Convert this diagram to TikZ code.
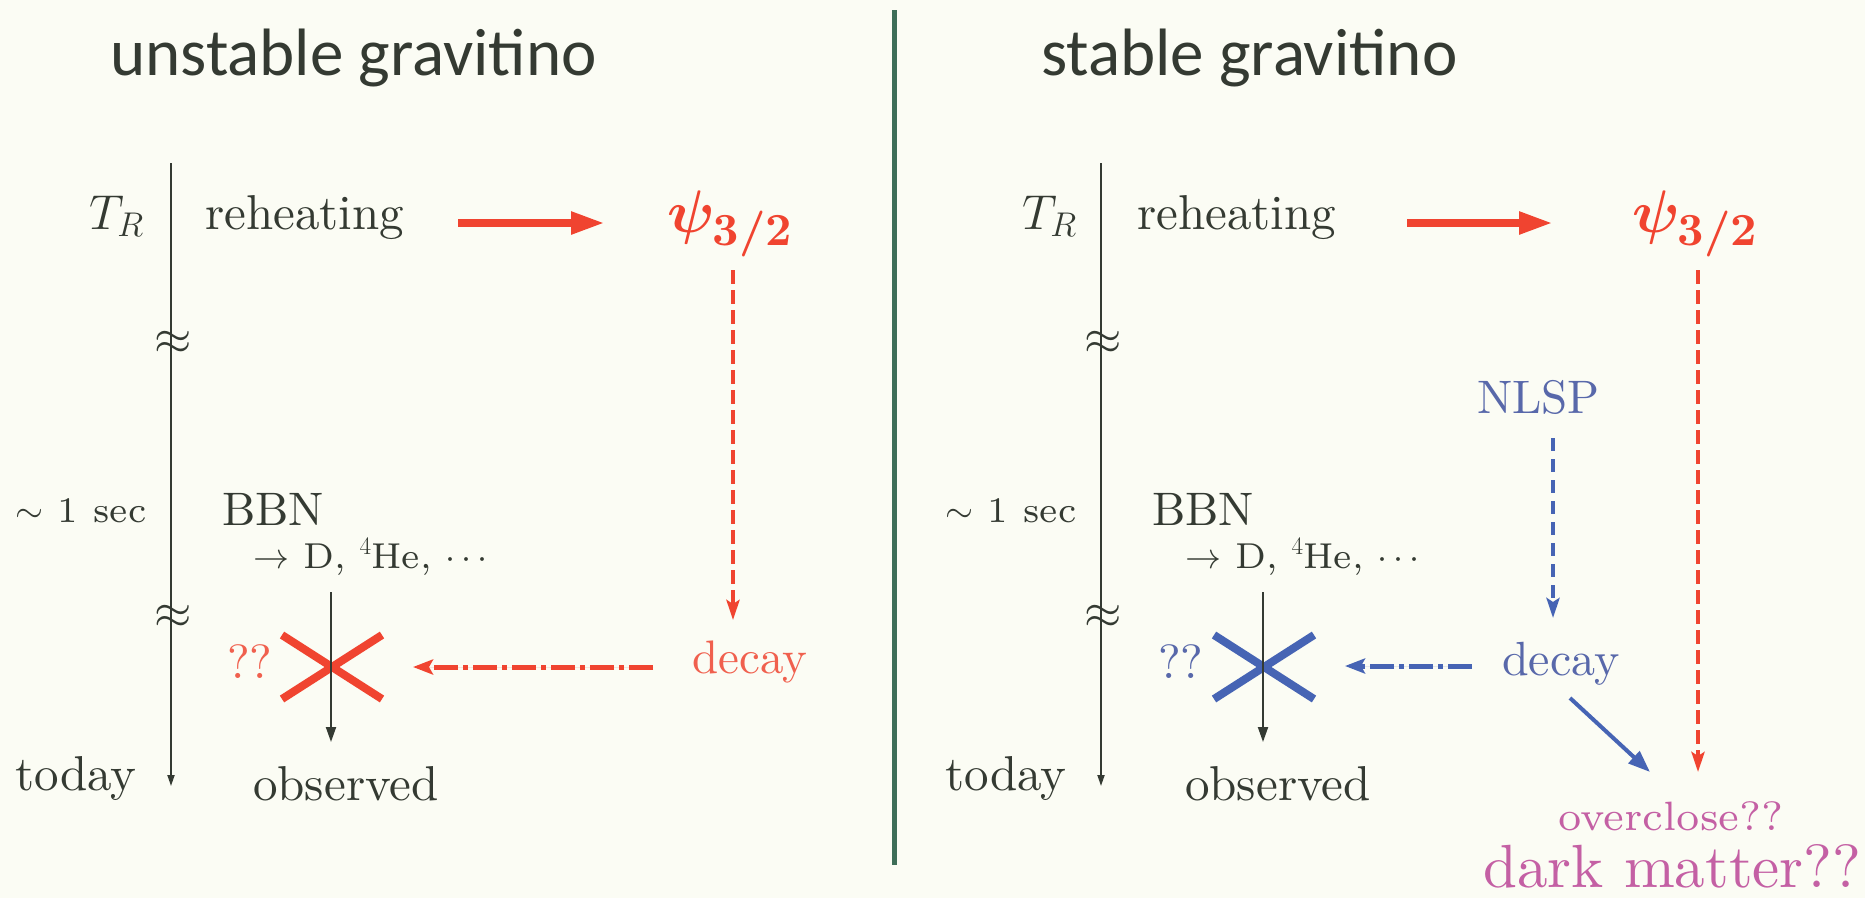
\RequirePackage{fix-cm}
\documentclass[tikz,border=0pt]{standalone}
\usepackage{amsmath,bm}
\usepackage{fontspec}
\setmainfont{lmroman10-regular}[Extension=.otf, BoldFont=lmroman10-bold, ItalicFont=lmroman10-italic]
\newfontfamily\lmseven{lmroman7-regular}[Extension=.otf]
\newfontfamily\titlefont{Carlito}
\usetikzlibrary{arrows.meta,shapes.misc}
\definecolor{bg}{RGB}{251,252,244}
\definecolor{ink}{RGB}{52,58,50}
\definecolor{myred}{RGB}{240,68,48}
\definecolor{redtxt}{RGB}{240,96,78}
\definecolor{myblue}{RGB}{70,100,180}
\definecolor{bluetxt}{RGB}{88,104,170}
\definecolor{mymag}{RGB}{196,96,164}
\definecolor{divgreen}{RGB}{62,110,88}
\newcommand{\gravpsi}{$\bm{\psi}_{\hbox{\fontsize{46}{46}\selectfont\bfseries 3/2}}$}
\begin{document}
\begin{tikzpicture}[x=1pt,y=-1pt,
  title/.style={font=\titlefont\fontsize{67}{80}\selectfont, text=ink, inner sep=0pt, anchor=base west},
  lbl/.style={inner sep=0pt, anchor=base west, text=ink, font=\fontsize{49}{58}\selectfont},
  sml/.style={inner sep=0pt, anchor=base west, text=ink, font=\lmseven\fontsize{36}{42}\selectfont},
  apx/.style={inner sep=0pt, text=ink, font=\fontsize{48}{52}\selectfont},
  psilbl/.style={inner sep=0pt, anchor=base west, text=myred, font=\fontsize{60}{70}\selectfont},
  timeline/.style={draw=ink, line width=1.8pt, -{Triangle[length=11pt,width=7pt]}},
  obsarrow/.style={draw=ink, line width=2pt, -{Triangle[length=15pt,width=10pt]}},
  bigred/.style={draw=myred, line width=8pt, -{Triangle[length=34pt,width=21pt]}},
  reddash/.style={draw=myred, line width=4pt, dash pattern=on 14pt off 6pt, -{Stealth[length=20pt,width=13pt,inset=4pt]}},
  bluedash/.style={draw=myblue, line width=4pt, dash pattern=on 13pt off 8pt, -{Stealth[length=20pt,width=13pt,inset=4pt]}},
  dashdot/.style={line width=5pt, dash pattern=on 24pt off 5pt on 5pt off 5pt, -{Stealth[length=20pt,width=15pt,inset=4pt]}},
  crossx/.style={cross out, line width=8pt, minimum width=92pt, minimum height=56pt, inner sep=0pt}
]
\fill[bg] (0,0) rectangle (1865,898);
\useasboundingbox (0,0) rectangle (1865,898);

% divider
\coordinate (dtop) at (894,10);
\coordinate (dbot) at (894,865);
\draw[divgreen, line width=5pt] (dtop) -- (dbot);

% ================= left panel =================
\node[title] (t1) at (110,75) {unstable gravitino};

\coordinate (tl1a) at (171,163);
\coordinate (tl1b) at (171,786);
\draw[timeline] (tl1a) -- (tl1b);
\node[apx] (ap1) at (173,343) {$\approx$};
\node[apx] (ap2) at (173,617) {$\approx$};

\node[lbl] (tr1) at (89,229) {$T_R$};
\node[lbl] (reh1) at (205,229) {reheating};
\node[psilbl] (psi1) at (667,232) {\gravpsi};
\coordinate (ra1a) at (458,223);
\coordinate (ra1b) at (605,223);
\draw[bigred] (ra1a) -- (ra1b);

\node[sml] (sec1) at (15,522) {$\sim$\hspace{14pt}1\hspace{16pt}sec};
\node[lbl, font=\fontsize{47}{56}\selectfont] (bbn1) at (222,525) {BBN};
\node[sml] (prod1) at (253,568) {$\to$ D, $^4$He, $\cdots$};

\coordinate (ob1a) at (331,592);
\coordinate (ob1b) at (331,742);
\node[crossx, draw=myred] (x1) at (332,667) {};
\draw[obsarrow] (ob1a) -- (ob1b);
\node[lbl, text=redtxt, font=\fontsize{48}{56}\selectfont] (q1) at (227,678) {??};

\coordinate (rd1a) at (733,270);
\coordinate (rd1b) at (733,620);
\draw[reddash] (rd1a) -- (rd1b);
\node[lbl, text=redtxt, font=\fontsize{47}{56}\selectfont] (dec1) at (692,673) {decay};
\coordinate (dd1a) at (653,667);
\coordinate (dd1b) at (413,667);
\draw[dashdot, draw=myred, fill=myred] (dd1a) -- (dd1b);

\node[lbl] (today1) at (15,790) {today};
\node[lbl] (obs1) at (253,800) {observed};

% ================= right panel =================
\node[title] (t2) at (1041,75) {stable gravitino};

\coordinate (tl2a) at (1101,163);
\coordinate (tl2b) at (1101,786);
\draw[timeline] (tl2a) -- (tl2b);
\node[apx] (ap3) at (1103,343) {$\approx$};
\node[apx] (ap4) at (1103,617) {$\approx$};

\node[lbl] (tr2) at (1022,229) {$T_R$};
\node[lbl] (reh2) at (1137,229) {reheating};
\node[psilbl] (psi2) at (1632,232) {\gravpsi};
\coordinate (ra2a) at (1407,223);
\coordinate (ra2b) at (1553,223);
\draw[bigred] (ra2a) -- (ra2b);

\node[lbl, text=bluetxt, font=\fontsize{47}{56}\selectfont] (nlsp) at (1477,413) {NLSP};
\coordinate (bd1a) at (1553,438);
\coordinate (bd1b) at (1553,618);
\draw[bluedash] (bd1a) -- (bd1b);

\coordinate (rd2a) at (1698,270);
\coordinate (rd2b) at (1698,772);
\draw[reddash] (rd2a) -- (rd2b);

\node[sml] (sec2) at (945,522) {$\sim$\hspace{14pt}1\hspace{16pt}sec};
\node[lbl, font=\fontsize{47}{56}\selectfont] (bbn2) at (1152,525) {BBN};
\node[sml] (prod2) at (1185,568) {$\to$ D, $^4$He, $\cdots$};

\coordinate (ob2a) at (1263,592);
\coordinate (ob2b) at (1263,742);
\node[crossx, draw=myblue] (x2) at (1264,667) {};
\draw[obsarrow] (ob2a) -- (ob2b);
\node[lbl, text=bluetxt, font=\fontsize{48}{56}\selectfont] (q2) at (1158,678) {??};

\node[lbl, text=bluetxt, font=\fontsize{48}{56}\selectfont] (dec2) at (1502,675) {decay};
\coordinate (dd2a) at (1472,666);
\coordinate (dd2b) at (1345,666);
\draw[dashdot, draw=myblue, fill=myblue] (dd2a) -- (dd2b);
\coordinate (ba1) at (1570,698);
\coordinate (ba2) at (1650,772);
\draw[draw=myblue, line width=4pt, -{Triangle[length=22pt,width=16pt]}] (ba1) -- (ba2);

\node[lbl] (today2) at (945,790) {today};
\node[lbl] (obs2) at (1185,800) {observed};

\node[lbl, text=mymag, font=\lmseven\fontsize{41}{48}\selectfont] (oc) at (1558,830) {overclose??};
\node[lbl, text=mymag, font=\fontsize{61}{70}\selectfont] (dm) at (1483,887) {dark matter??};
\end{tikzpicture}
\end{document}
